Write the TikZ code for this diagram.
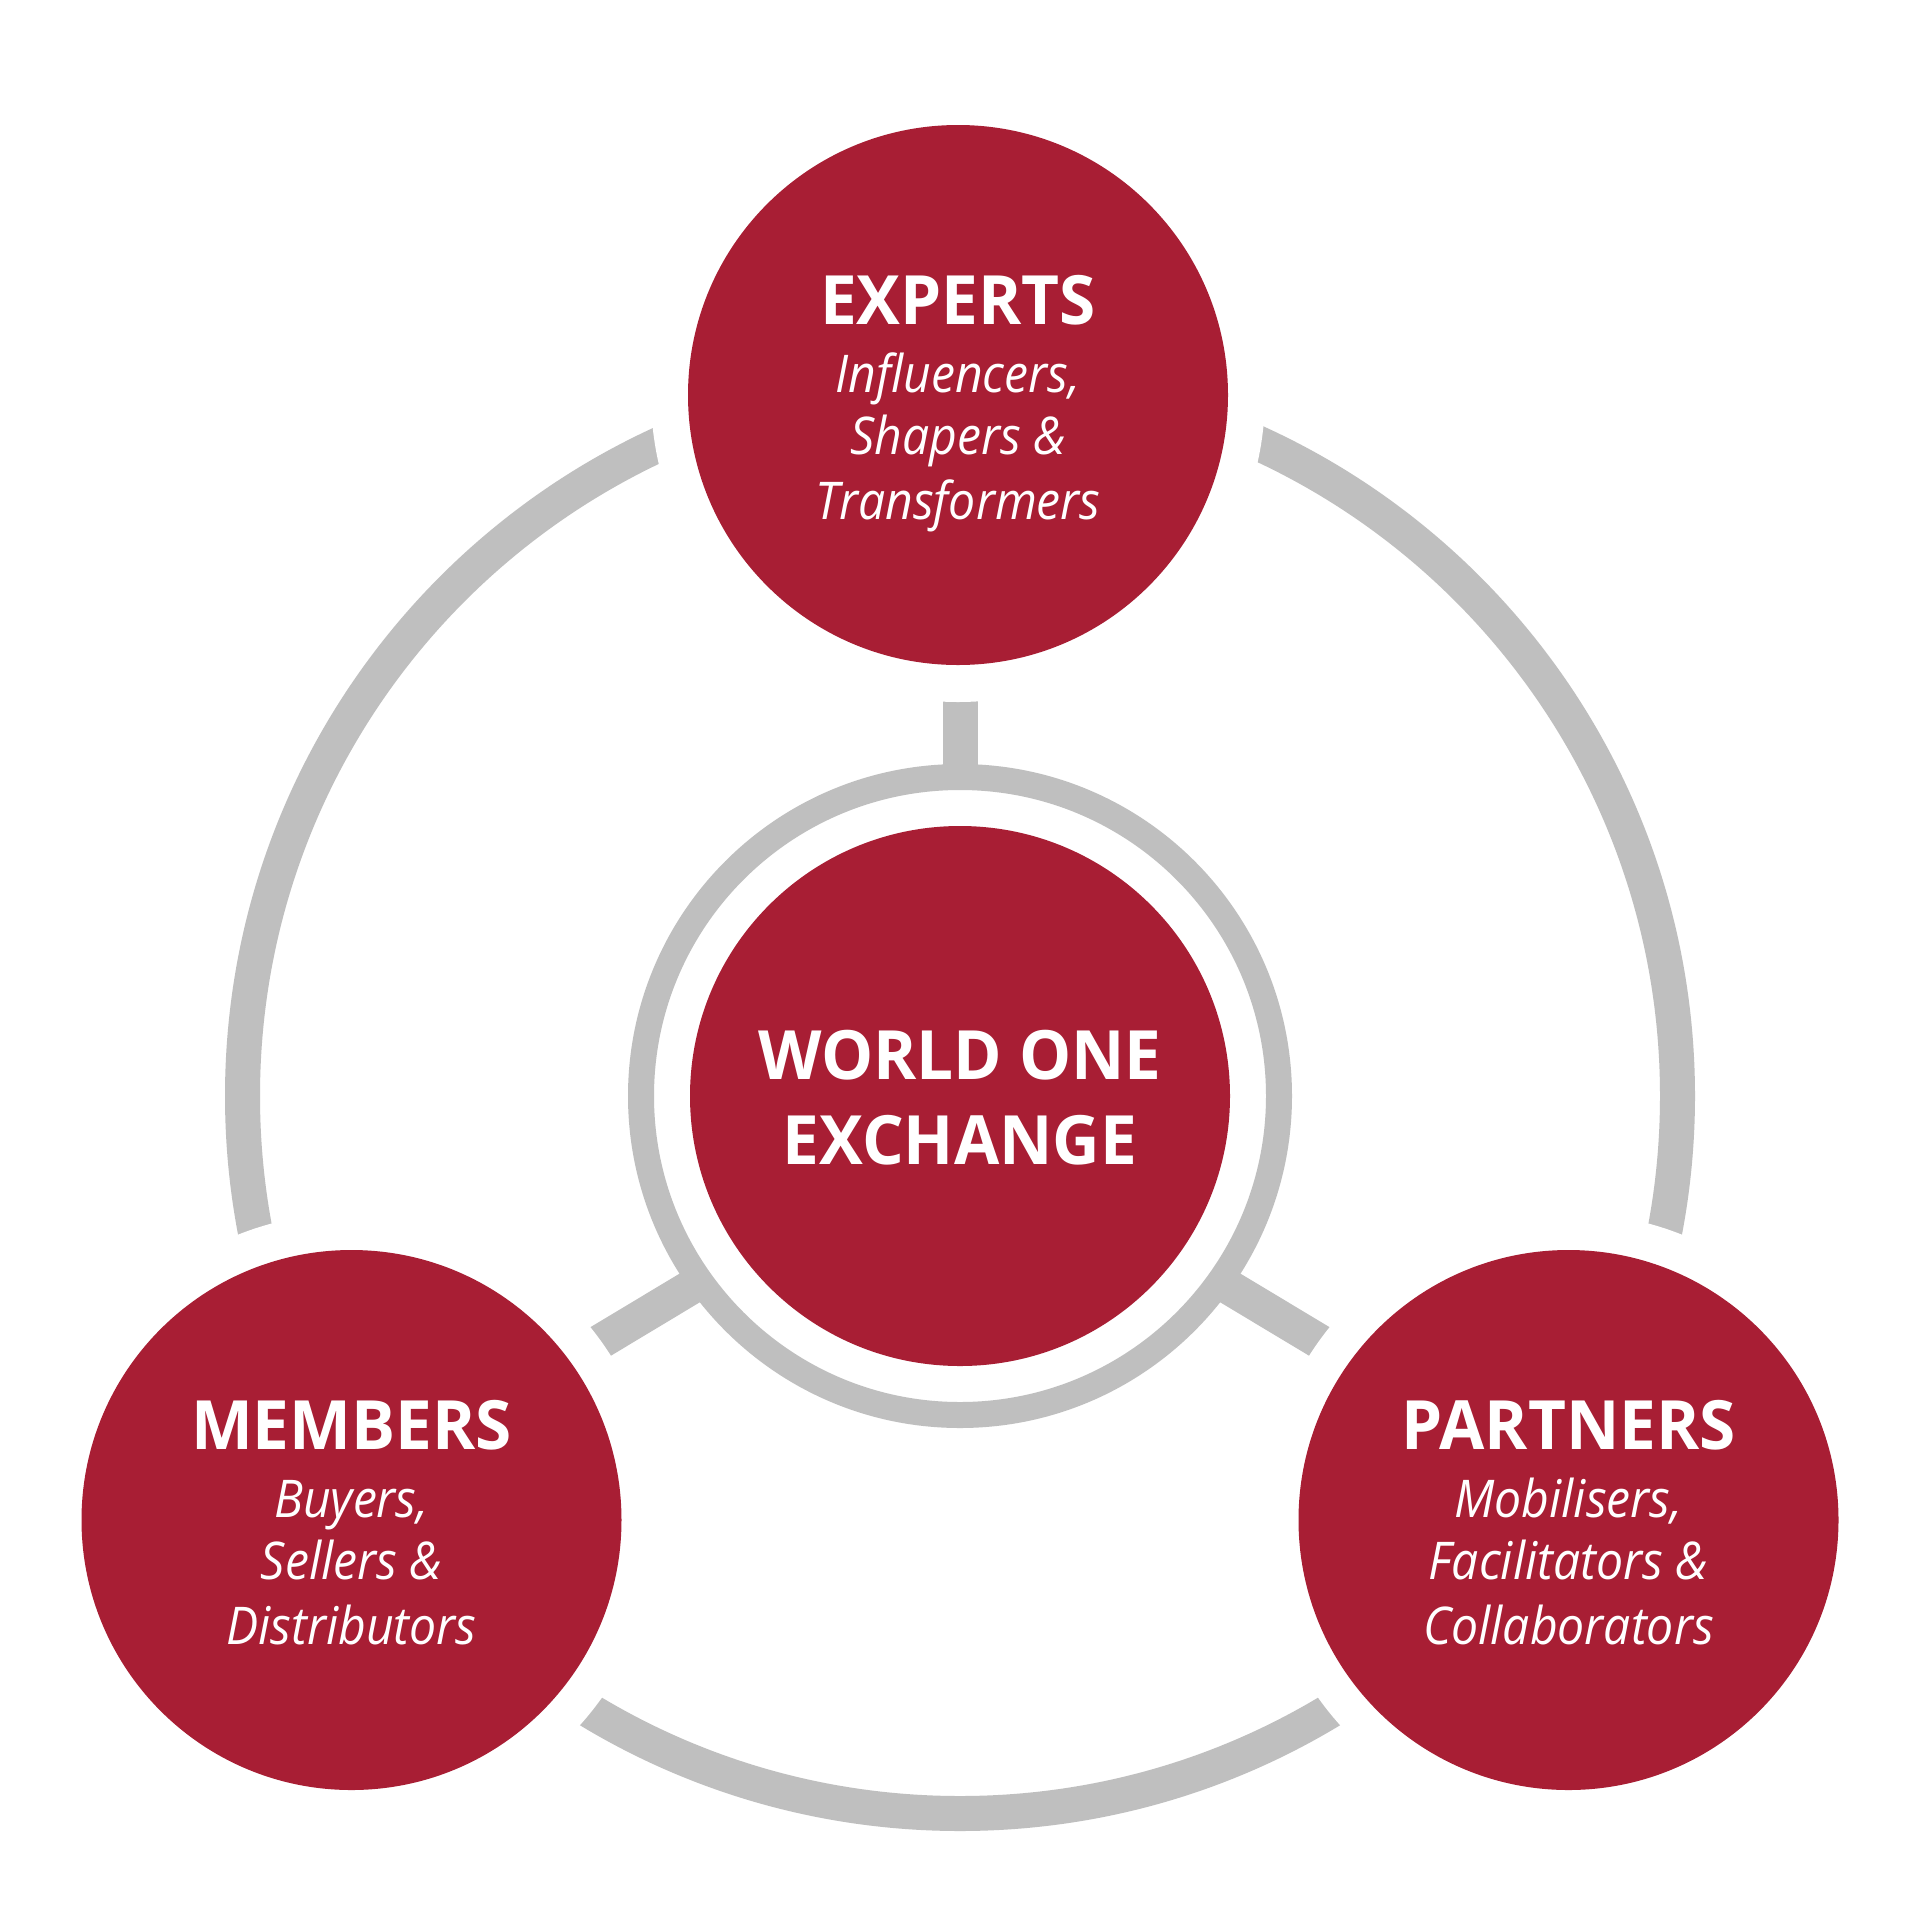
\documentclass[tikz,border=0pt]{standalone}
\usepackage{fontspec}
\setmainfont{Open Sans}
\newfontfamily\ttlfont{Open Sans}[FakeStretch=0.965]
\newfontfamily\subfont{Open Sans}[FakeStretch=0.925]
\definecolor{wred}{HTML}{A81E34}
\definecolor{wgray}{HTML}{BFBFBF}
\tikzset{
  redc/.style={circle, fill=wred, minimum size=540pt, inner sep=0pt},
  ttl/.style={anchor=base, text=white, inner sep=0pt, font=\ttlfont\bfseries\fontsize{68}{68}\selectfont},
  sub/.style={anchor=base, text=white, inner sep=0pt, font=\subfont\itshape\fontsize{52}{52}\selectfont},
  graystroke/.style={draw=wgray, line width=35pt},
}
\begin{document}
\begin{tikzpicture}[x=1pt,y=-1pt]
\useasboundingbox (0,0) rectangle (1920,1920);
\fill[white] (0,0) rectangle (1920,1920);
% centres
\coordinate (cc) at (960,1096);
\coordinate (ce) at (958,395);
\coordinate (cm) at (351.5,1520);
\coordinate (cp) at (1568.5,1520);
\coordinate (hub) at (960,1125.5);
\coordinate (stubT) at (960,500);
\coordinate (stubL) at (445.8,1434.5);
\coordinate (stubR) at (1474.2,1434.5);
% outer ring
\draw[graystroke] (cc) circle (717.5);
% stubs
\draw[graystroke] (cc) -- (stubT);
\draw[graystroke] (hub) -- (stubL);
\draw[graystroke] (hub) -- (stubR);
% white cut-outs
\fill[white] (ce) circle (307);
\fill[white] (cm) circle (307);
\fill[white] (cp) circle (307);
\fill[white] (cc) circle (319);
% centre ring
\draw[draw=wgray, line width=26pt] (cc) circle (319);
% red circles
\node[redc] (core) at (cc) {};
\node[redc] (experts) at (ce) {};
\node[redc] (members) at (cm) {};
\node[redc] (partners) at (cp) {};
% texts
\node[ttl] (coreA) at (960,1079) {WORLD ONE};
\node[ttl] (coreB) at (960,1164) {EXCHANGE};
\node[ttl] (expT) at (958,324.5) {EXPERTS};
\node[sub] (exp1) at (958,392) {Influencers,};
\node[sub] (exp2) at (958,454) {Shapers \&};
\node[sub] (exp3) at (958,519.5) {Transformers};
\node[ttl] (memT) at (351.5,1449) {MEMBERS};
\node[sub] (mem1) at (351.5,1517) {Buyers,};
\node[sub] (mem2) at (351.5,1579.5) {Sellers \&};
\node[sub] (mem3) at (351.5,1644) {Distributors};
\node[ttl] (parT) at (1568.5,1449) {PARTNERS};
\node[sub] (par1) at (1568.5,1517) {Mobilisers,};
\node[sub] (par2) at (1568.5,1579.5) {Facilitators \&};
\node[sub] (par3) at (1568.5,1644) {Collaborators};
\end{tikzpicture}
\end{document}
